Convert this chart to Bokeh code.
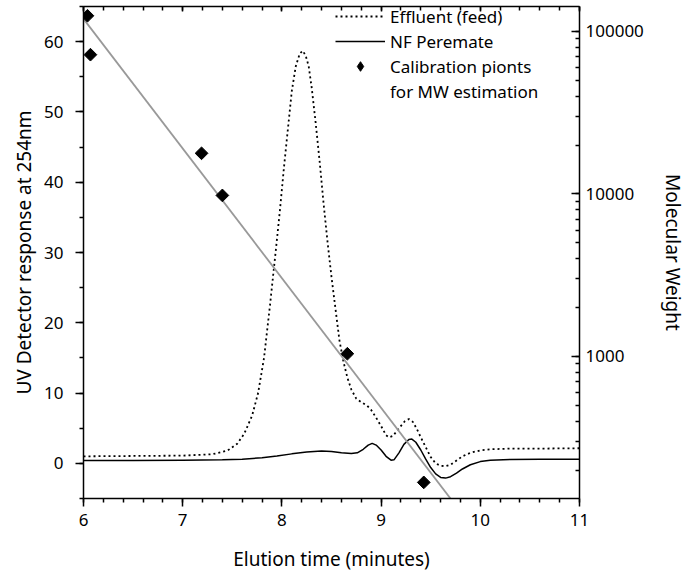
from bokeh.plotting import figure
from bokeh.models import (Range1d, LogScale, LinearAxis, LogAxis, LogTicker, Legend,
                          LegendItem, SingleIntervalTicker, NumeralTickFormatter)
from bokeh.embed import file_html
from bokeh.resources import INLINE

# ---- data ----
feed_t = [6.0, 6.5, 7.0, 7.3, 7.45, 7.55, 7.62, 7.7, 7.76, 7.82, 7.88, 7.94, 7.98, 8.02,
          8.06, 8.10, 8.14, 8.18, 8.21, 8.24, 8.27, 8.30, 8.34, 8.38, 8.42, 8.46, 8.50,
          8.54, 8.58, 8.62, 8.66, 8.70, 8.75, 8.80, 8.86, 8.90, 8.95, 9.00, 9.05, 9.08,
          9.12, 9.18, 9.24, 9.28, 9.32, 9.36, 9.40, 9.45, 9.50, 9.55, 9.60, 9.65, 9.70,
          9.76, 9.82, 9.90, 10.0, 10.1, 10.3, 10.6, 11.0]
feed_uv = [1.0, 1.05, 1.1, 1.3, 1.8, 2.8, 4.2, 6.8, 10.0, 15.0, 22.5, 30.5, 36.0, 42.0,
           47.5, 53.0, 56.5, 58.3, 58.7, 58.0, 56.5, 53.5, 48.5, 43.0, 37.0, 31.5, 26.5,
           22.0, 17.5, 14.5, 12.2, 10.5, 9.2, 8.7, 8.2, 7.6, 6.5, 5.3, 4.0, 3.7,
           3.9, 5.0, 6.0, 6.3, 5.9, 4.9, 3.7, 2.3, 0.9, 0.0, -0.35, -0.4, -0.2,
           0.4, 1.0, 1.5, 1.85, 2.0, 2.1, 2.1, 2.15]

perm_t = [6.0, 6.5, 7.0, 7.4, 7.6, 7.8, 7.95, 8.1, 8.25, 8.4, 8.5, 8.6, 8.7, 8.76, 8.82,
          8.87, 8.91, 8.95, 9.0, 9.05, 9.1, 9.13, 9.18, 9.23, 9.28, 9.31, 9.35, 9.40,
          9.45, 9.50, 9.55, 9.60, 9.65, 9.70, 9.76, 9.82, 9.90, 10.0, 10.1, 10.3, 10.6, 11.0]
perm_uv = [0.4, 0.4, 0.45, 0.5, 0.6, 0.8, 1.05, 1.35, 1.6, 1.75, 1.7, 1.5, 1.4, 1.5, 2.0,
           2.6, 2.85, 2.6, 1.9, 1.0, 0.45, 0.5, 1.5, 2.7, 3.4, 3.45, 3.0, 1.9,
           0.6, -0.6, -1.5, -2.0, -2.1, -1.9, -1.4, -0.8, -0.2, 0.25, 0.45, 0.55, 0.6, 0.6]

cal_t = [6.04, 6.07, 7.19, 7.40, 8.66, 9.43]
cal_mw = [125000, 72000, 17800, 9800, 1040, 168]

# calibration fit: log10(MW) = fit_intercept + fit_slope * (t - 6)
fit_intercept = 5.078
fit_slope = -0.798
fit_t = [6.0, 9.8]
fit_mw = [10 ** (fit_intercept + fit_slope * (t - 6.0)) for t in fit_t]

x_tick_labels = {6: "6", 7: "7", 8: "8", 9: "9", 10: "10", 11: "11"}
font = "Noto Sans"

p = figure(width=693, height=577, output_backend="svg", toolbar_location=None,
           x_range=Range1d(6, 11), y_range=Range1d(-5, 65),
           min_border_left=83, min_border_right=114, min_border_top=6, min_border_bottom=79)
p.extra_y_ranges = {"mw": Range1d(133.7, 142500)}
p.extra_y_scales = {"mw": LogScale()}
p.grid.visible = False
p.outline_line_color = None

r_feed = p.line(feed_t, feed_uv, line_color="black", line_width=1.8, line_dash="2 3")
r_perm = p.line(perm_t, perm_uv, line_color="black", line_width=1.5)
p.line(fit_t, fit_mw, y_range_name="mw", line_color="#999999", line_width=1.8)
# diamond-shaped key (drawn underneath the rotated squares, used for the legend)
r_cal_key = p.scatter(cal_t, cal_mw, y_range_name="mw", marker="diamond", size=8,
                      fill_color="black", line_color="black")
r_cal = p.scatter(cal_t, cal_mw, y_range_name="mw", marker="square", angle=0.785398,
                  size=9, fill_color="black", line_color="black")
r_blank = p.line([], [], line_alpha=0)

def style_axis(ax):
    ax.axis_line_width = 1.5
    ax.major_tick_line_width = 1.5
    ax.minor_tick_line_width = 1.5
    ax.major_label_text_font = font
    ax.major_label_text_font_size = "17px"
    ax.major_label_text_color = "black"
    ax.axis_label_text_font = font
    ax.axis_label_text_font_size = "19px"
    ax.axis_label_text_font_style = "normal"
    ax.axis_label_text_color = "black"

# bottom
xa = p.xaxis[0]
xa.ticker = SingleIntervalTicker(interval=1, num_minor_ticks=5)
xa.axis_label = "Elution time (minutes)"
style_axis(xa)
xa.major_tick_out = 8
xa.major_tick_in = 0
xa.minor_tick_out = 4
xa.minor_tick_in = 0
xa.major_label_standoff = 7
xa.axis_label_standoff = 17

# left
ya = p.yaxis[0]
ya.ticker = SingleIntervalTicker(interval=10, num_minor_ticks=2)
ya.axis_label = "UV Detector response at 254nm"
style_axis(ya)
ya.major_tick_out = 8
ya.major_tick_in = 0
ya.minor_tick_out = 4
ya.minor_tick_in = 0
ya.major_label_standoff = 12
ya.axis_label_standoff = 4

# top (ticks only, no labels)
ta = LinearAxis(ticker=SingleIntervalTicker(interval=1, num_minor_ticks=5))
style_axis(ta)
ta.major_tick_out = 0
ta.major_tick_in = 5
ta.minor_tick_out = 0
ta.minor_tick_in = 4
ta.major_label_overrides = {k: "" for k in x_tick_labels}
ta.major_label_text_font_size = "1px"
ta.major_label_standoff = 0
p.add_layout(ta, "above")

# right (log MW)
ra = LogAxis(y_range_name="mw", ticker=LogTicker(num_minor_ticks=10),
             formatter=NumeralTickFormatter(format="0"))
style_axis(ra)
ra.axis_label = "Molecular Weight"
ra.major_tick_out = 0
ra.major_tick_in = 8
ra.minor_tick_out = 0
ra.minor_tick_in = 4
ra.major_label_standoff = 6
ra.axis_label_standoff = 13
p.add_layout(ra, "right")

legend = Legend(items=[
    LegendItem(label="Effluent (feed)", renderers=[r_feed]),
    LegendItem(label="NF Peremate", renderers=[r_perm]),
    LegendItem(label="Calibration pionts", renderers=[r_cal_key]),
    LegendItem(label="for MW estimation", renderers=[r_blank]),
], location=(252, 395))
legend.border_line_color = None
legend.background_fill_alpha = 0
legend.padding = 0
legend.margin = 0
legend.spacing = 1
legend.label_height = 24
legend.glyph_height = 24
legend.glyph_width = 50
legend.label_standoff = 5
legend.label_text_font = font
legend.label_text_font_size = "17px"
legend.label_text_color = "black"
p.add_layout(legend)

open("out.html", "w").write(file_html(p, INLINE))
